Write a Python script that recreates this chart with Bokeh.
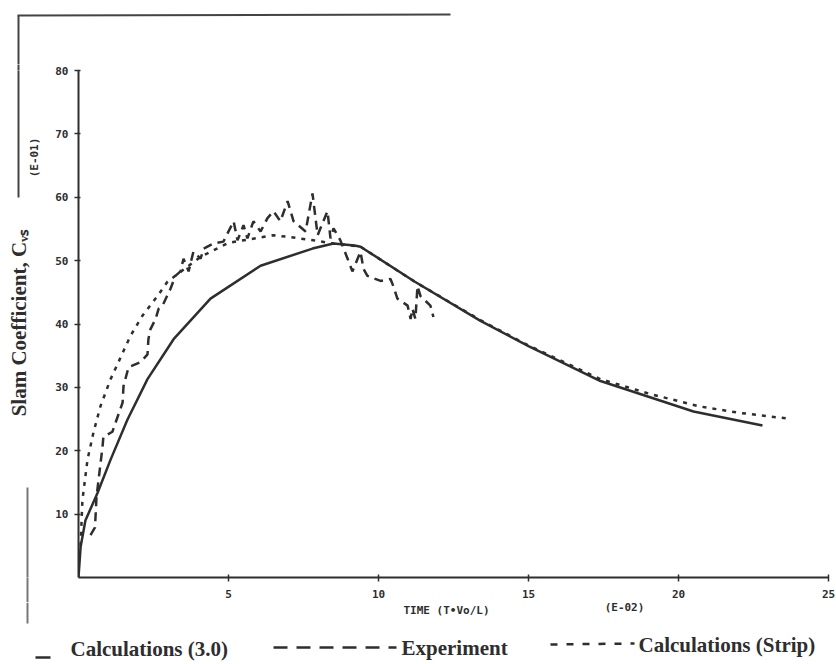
from bokeh.plotting import figure
from bokeh.layouts import column, row
from bokeh.models import FixedTicker, LinearAxis
from bokeh.core.properties import value
from bokeh.embed import file_html
from bokeh.resources import INLINE
from math import pi

# ---- data ----
calc_t = [0, 0.07, 0.23, 0.63, 1.07, 1.63, 2.3, 3.17, 4.4, 6.07, 7.8, 8.5, 9.2, 9.4,
          11.2, 13.4, 15.0, 17.4, 20.5, 22.8]
calc_c = [0, 4.8, 9.0, 13.3, 18.6, 24.9, 31.3, 37.6, 44.0, 49.2, 51.9, 52.7, 52.4, 52.2,
          46.7, 40.5, 36.5, 31.0, 26.2, 24.0]

strip_t = [0.07, 0.13, 0.3, 0.5, 0.73, 1.07, 1.73, 2.13, 2.63, 2.97, 4.07, 5.0, 6.5, 7.07,
           7.83, 8.5, 9.4, 11.2, 13.4, 15.0, 17.4, 19.1, 20.7, 22.0, 23.6]
strip_c = [5.0, 12.2, 18.6, 22.9, 27.0, 31.3, 38.1, 41.3, 44.4, 46.7, 50.6, 52.8, 54.0, 53.7,
           53.2, 52.7, 52.2, 46.7, 40.6, 36.6, 31.3, 28.9, 27.0, 26.0, 25.1]

exp_t = [0.4, 0.55, 0.6, 0.8, 0.83, 1.13, 1.47, 1.5, 1.67, 2.07, 2.3, 2.33, 2.4, 2.57, 2.67,
         2.8, 3.07, 3.23, 3.4, 3.5, 3.67, 3.83, 4.07, 4.17, 4.5, 4.83, 5.17, 5.3, 5.5, 5.63,
         5.83, 6.07, 6.3, 6.5, 6.73, 6.97, 7.17, 7.57, 7.8, 7.97, 8.3, 8.4, 8.5, 8.73, 8.97,
         9.13, 9.4, 9.5, 9.63, 10.07, 10.4, 10.5, 10.63, 10.97, 11.07, 11.13, 11.23, 11.3,
         11.4, 11.73, 11.83]
exp_c = [6.7, 7.9, 12.7, 20.6, 22.2, 23.0, 27.6, 30.2, 33.2, 34.0, 35.2, 37.6, 39.2, 40.8, 42.4,
         42.9, 45.6, 47.6, 48.3, 50.3, 48.3, 51.4, 50.3, 51.9, 52.7, 53.0, 56.2, 53.2, 55.6, 53.5,
         56.2, 54.6, 56.7, 57.8, 56.2, 59.4, 56.2, 54.6, 60.6, 54.0, 57.8, 53.5, 55.1, 53.2, 50.3,
         48.3, 51.4, 48.7, 47.6, 46.8, 47.1, 45.9, 44.0, 42.9, 40.8, 42.4, 40.8, 46.0,
         44.4, 42.9, 41.1]

x_ticks = [5, 10, 15, 20, 25]
y_ticks = [10, 20, 30, 40, 50, 60, 70, 80]
y_title = "Slam Coefficient, C\u1d65\u209b"
y_scale_note = "(E-01)"
x_title = "TIME (T\u2022Vo/L)"
x_scale_note = "(E-02)"
legend_labels = ["Calculations (3.0)", "Experiment", "Calculations (Strip)"]

INK = "#2e2e2e"
SCAN = "#444444"
SCAN2 = "#777777"
SERIF = value("Liberation Serif")
MONO = value("DejaVu Sans Mono")


def blank(w, h, x0, x1, y0, y1, **borders):
    kw = dict(min_border=0)
    kw.update(borders)
    f = figure(width=w, height=h, x_range=(x0, x1), y_range=(y0, y1),
               x_axis_type=None, y_axis_type=None, output_backend="svg",
               toolbar_location=None, **kw)
    f.outline_line_color = None
    f.grid.visible = False
    f.background_fill_color = "white"
    f.border_fill_color = "white"
    return f


# ---- main chart (frame: page x 78..828, y 70..577) ----
p = figure(width=786, height=538, x_range=(0, 25), y_range=(0, 80),
           output_backend="svg", toolbar_location=None,
           min_border_left=28, min_border_right=8, min_border_top=6, min_border_bottom=25)
p.outline_line_color = None
p.grid.visible = False
p.background_fill_color = "white"
p.border_fill_color = "white"

for ax in (p.xaxis[0], p.yaxis[0]):
    ax.axis_line_color = INK
    ax.axis_line_width = 2
    ax.major_tick_line_color = INK
    ax.major_tick_line_width = 1.5
    ax.minor_tick_line_color = None
    ax.major_label_text_font = "DejaVu Sans Mono"
    ax.major_label_text_font_style = "bold"
    ax.major_label_text_font_size = "11px"
    ax.major_label_text_color = INK

p.xaxis.ticker = FixedTicker(ticks=x_ticks)
p.xaxis.major_tick_in = 3
p.xaxis.major_tick_out = 4
p.xaxis.major_label_standoff = 8

p.yaxis.ticker = FixedTicker(ticks=y_ticks)
p.yaxis.major_tick_in = 2
p.yaxis.major_tick_out = 4
p.yaxis.major_label_standoff = 6

r_calc = p.line(calc_t, calc_c, line_color=INK, line_width=2.5)
r_exp = p.line(exp_t, exp_c, line_color=INK, line_width=2.5, line_dash="9 6")
r_strip = p.line(strip_t, strip_c, line_color=INK, line_width=2.5, line_dash="4 6")

# ---- strip above (scan frame remnant); page pixel coords, y downward as negative ----
top = blank(836, 64, 0, 836, -64, 0)
top.line([17, 450], [-15, -14], line_color=SCAN, line_width=2)
top.line([18, 18], [-15, -64], line_color=SCAN, line_width=2)

# ---- strip at left (frame aligned with the main frame: page y 70..577) ----
left = blank(50, 538, 0, 50, -577, -70, min_border_top=6, min_border_bottom=25)
left.line([18, 18], [-70, -197], line_color=SCAN, line_width=2)
left.line([27, 27], [-487, -577], line_color=SCAN2, line_width=2)
left.text(x=[18], y=[-322], text=[y_title], angle=pi / 2, text_font=SERIF,
          text_font_style="bold", text_font_size="21px", text_color=INK,
          text_align="center", text_baseline="middle")
left.text(x=[34], y=[-157], text=[y_scale_note], angle=pi / 2, text_font=MONO,
          text_font_style="bold", text_font_size="11px", text_color=INK,
          text_align="center", text_baseline="middle")
# bridge the scan lines through the strip's borders with single long tick marks
for loc, tick_x, length, color in [("above", 18, 6, SCAN), ("below", 27, 25, SCAN2)]:
    bridge = LinearAxis(ticker=FixedTicker(ticks=[tick_x]), axis_line_color=None,
                        major_tick_in=0, major_tick_out=length, major_tick_line_color=color,
                        major_tick_line_width=2, minor_tick_line_color=None,
                        major_label_text_font_size="0px", major_label_text_color=None,
                        major_label_standoff=0)
    left.add_layout(bridge, loc)

# ---- strip below: x title, scale note, legend ----
bot = blank(836, 62, 0, 836, -664, -602)
bot.line([27, 27], [-602, -623], line_color=SCAN2, line_width=2)
bot.text(x=[446], y=[-610], text=[x_title], text_font=MONO, text_font_style="bold",
         text_font_size="11px", text_color=INK, text_align="center", text_baseline="middle")
bot.text(x=[624], y=[-607], text=[x_scale_note], text_font=MONO, text_font_style="bold",
         text_font_size="11px", text_color=INK, text_align="center", text_baseline="middle")

bot.line([35, 50], [-657, -657], line_color=INK, line_width=2.5)
bot.line([273, 396], [-647, -647], line_color=INK, line_width=2.5, line_dash="14 9")
bot.line([550, 634], [-644, -643], line_color=INK, line_width=2.5, line_dash="7 9")
bot.text(x=[70, 401, 638], y=[-648, -647, -644], text=legend_labels, text_font=SERIF,
         text_font_style="bold", text_font_size="21px", text_color=INK,
         text_align="left", text_baseline="middle")

layout = column(top, row(left, p, spacing=0), bot, spacing=0)
open("out.html", "w").write(file_html(layout, INLINE))
